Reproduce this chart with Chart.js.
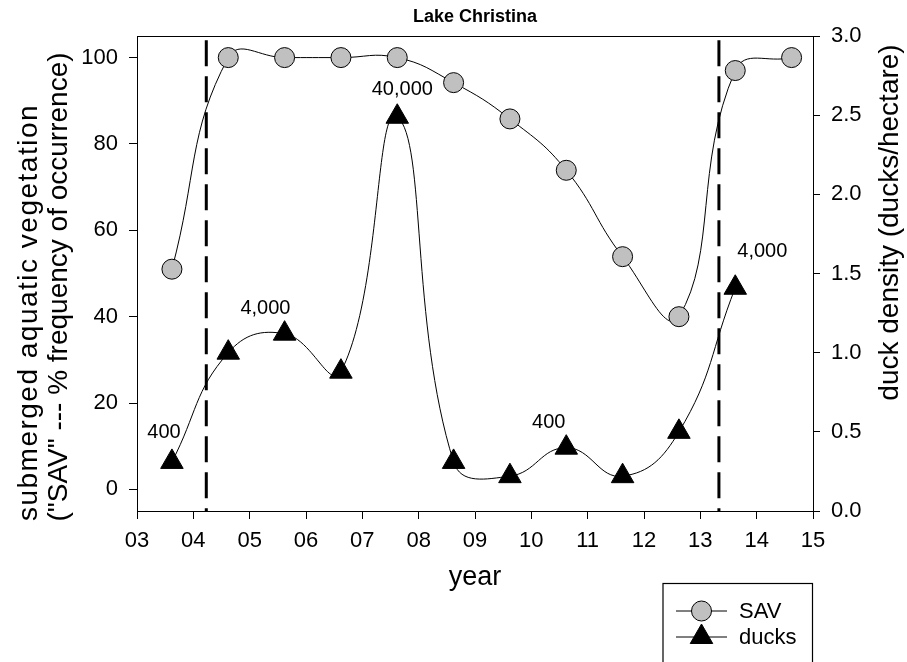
<!DOCTYPE html>
<html>
<head>
<meta charset="utf-8">
<title>Lake Christina</title>
<script src="https://cdn.jsdelivr.net/npm/chart.js@4.4.1/dist/chart.umd.min.js"></script>
<style>
 html,body {margin:0; padding:0; background:#fff;}
 #chartBox {width:907px; height:662px;}
</style>
</head>
<body>
<div id="chartBox"><canvas id="chartID" width="907" height="662"></canvas></div>
<script>
// values
var savYears=[3.62,4.62,5.62,6.62,7.62,8.62,9.62,10.62,11.62,12.62,13.62,14.62];
var savValues=[51,100,100,100,100,94.2,85.8,73.9,53.9,40,97,100];
var duckYears=[3.62,4.62,5.62,6.62,7.62,8.62,9.62,10.62,11.62,12.62,13.62];
var duckValues=[0.31,1.00,1.12,0.88,2.49,0.31,0.22,0.40,0.22,0.50,1.41];
var eventYears=[4.23,13.33];
var countLabels=['400','4,000','40,000','400','4,000'];
var countYears=[3.48,5.28,7.71,10.31,14.10];
var countDensity=[0.495,1.28,2.66,0.558,1.638];
var savTicks=[0,20,40,60,80,100];

var FONT='"Liberation Sans", Arial, Helvetica, sans-serif';
Chart.defaults.font.family=FONT;
Chart.defaults.color='#000';

function toXY(xs,ys) {
 var out=[];
 for (var i=0; i<xs.length; i++) {out.push({x:xs[i], y:ys[i]});}
 return out;
}

var datasets=[
 {label:'SAV', data:toXY(savYears,savValues), yAxisID:'ySav',
  borderColor:'#000', borderWidth:1, tension:0.45,
  pointStyle:'circle', pointRadius:10, pointBackgroundColor:'#c0c0c0', pointBorderColor:'#000', pointBorderWidth:1},
 {label:'ducks', data:toXY(duckYears,duckValues), yAxisID:'yDuck',
  borderColor:'#000', borderWidth:1, tension:0.45,
  pointStyle:'triangle', pointRadius:13, pointBackgroundColor:'#000', pointBorderColor:'#000', pointBorderWidth:1}
];
// dashed vertical markers, drawn top to bottom
for (var i=0; i<eventYears.length; i++) {
 datasets.push({label:'event'+i, data:[{x:eventYears[i], y:104},{x:eventYears[i], y:-5}], yAxisID:'ySav',
  borderColor:'#000', borderWidth:3, borderDash:[26,10], pointRadius:0, tension:0});
}

function drawRotated(ctx,text,x,y,spacing) {
 ctx.save();
 if (spacing) {ctx.letterSpacing=spacing;}
 ctx.translate(x,y);
 ctx.rotate(-Math.PI/2);
 ctx.fillText(text,0,0);
 ctx.restore();
}

var extras={
 id:'extras',
 afterDatasetsDraw:function(chart) {
  var ctx=chart.ctx, a=chart.chartArea, sx=chart.scales.x, sd=chart.scales.yDuck;
  ctx.save();
  ctx.strokeStyle='#000'; ctx.lineWidth=1;
  ctx.beginPath(); ctx.moveTo(a.left,a.top+0.5); ctx.lineTo(a.right,a.top+0.5); ctx.stroke();
  ctx.font='20px '+FONT; ctx.fillStyle='#000'; ctx.textAlign='center'; ctx.textBaseline='middle';
  for (var i=0; i<countLabels.length; i++) {
   ctx.fillText(countLabels[i], sx.getPixelForValue(countYears[i]), sd.getPixelForValue(countDensity[i]));
  }
  ctx.restore();
 },
 afterDraw:function(chart) {
  var ctx=chart.ctx, a=chart.chartArea;
  var midY=(a.top+a.bottom)/2;
  ctx.save();
  ctx.fillStyle='#000';
  // axis titles
  ctx.font='28px '+FONT; ctx.textAlign='center'; ctx.textBaseline='alphabetic';
  drawRotated(ctx,'submerged aquatic vegetation',a.left-100,midY+39,'1.5px');
  drawRotated(ctx,'("SAV" --- % frequency of occurrence)',a.left-70.5,midY+13.5);
  drawRotated(ctx,'duck density (ducks/hectare)',a.right+85,midY-51);
  ctx.font='27px '+FONT;
  ctx.fillText('year',(a.left+a.right)/2,a.bottom+74);
  // legend box
  var lx=663, ly=583.5, lw=149.5;
  ctx.strokeStyle='#000'; ctx.lineWidth=1.2;
  ctx.strokeRect(lx,ly,lw,100);
  ctx.font='22px '+FONT; ctx.textAlign='left'; ctx.textBaseline='middle';
  var rows=[{ds:chart.data.datasets[0], y:611},{ds:chart.data.datasets[1], y:637}];
  for (var i=0; i<rows.length; i++) {
   var ds=rows[i].ds, y=rows[i].y;
   ctx.lineWidth=1;
   ctx.beginPath(); ctx.moveTo(676,y); ctx.lineTo(727,y); ctx.stroke();
   ctx.fillStyle=ds.pointBackgroundColor; ctx.strokeStyle=ds.pointBorderColor;
   Chart.helpers.drawPoint(ctx,{pointStyle:ds.pointStyle, radius:ds.pointRadius, borderWidth:ds.pointBorderWidth, rotation:0},701.5,y);
   ctx.fillStyle='#000';
   ctx.fillText(ds.label,739,y+1);
  }
  ctx.restore();
 }
};

var cellChart=new Chart(document.getElementById('chartID').getContext('2d'),{
 type:'line',
 data:{datasets:datasets},
 plugins:[extras],
 options:{
  responsive:false, animation:false, devicePixelRatio:1,
  layout:{padding:{left:0, right:0, top:0, bottom:71}},
  elements:{line:{capBezierPoints:false}},
  plugins:{
   legend:{display:false}, tooltip:{enabled:false},
   title:{display:true, text:'Lake Christina', fullSize:false, color:'#000',
    font:{size:18, weight:'bold'}, padding:{top:6, bottom:8.4}}
  },
  scales:{
   x:{type:'linear', min:3, max:15,
    afterFit:function(s) {s.height=80;},
    border:{display:true, color:'#000', width:1},
    grid:{display:true, drawOnChartArea:false, tickLength:8, tickColor:'#000'},
    ticks:{stepSize:1, font:{size:22}, color:'#000', padding:9, maxRotation:0,
     callback:function(v) {return (v<10?'0':'')+v;}}},
   ySav:{type:'linear', position:'left', min:-5, max:105,
    afterFit:function(s) {s.width=137;},
    afterBuildTicks:function(s) {s.ticks=savTicks.map(function(v) {return {value:v};});},
    border:{display:true, color:'#000', width:1},
    grid:{display:true, drawOnChartArea:false, tickLength:8, tickColor:'#000'},
    ticks:{font:{size:22}, color:'#000', padding:11}},
   yDuck:{type:'linear', position:'right', min:0, max:3,
    afterFit:function(s) {s.width=94;},
    border:{display:true, color:'#000', width:1},
    grid:{display:true, drawOnChartArea:false, tickLength:7, tickColor:'#000'},
    ticks:{stepSize:0.5, font:{size:22}, color:'#000', padding:11,
     callback:function(v) {return v.toFixed(1);}}}
  }
 }
});
</script>
</body>
</html>
